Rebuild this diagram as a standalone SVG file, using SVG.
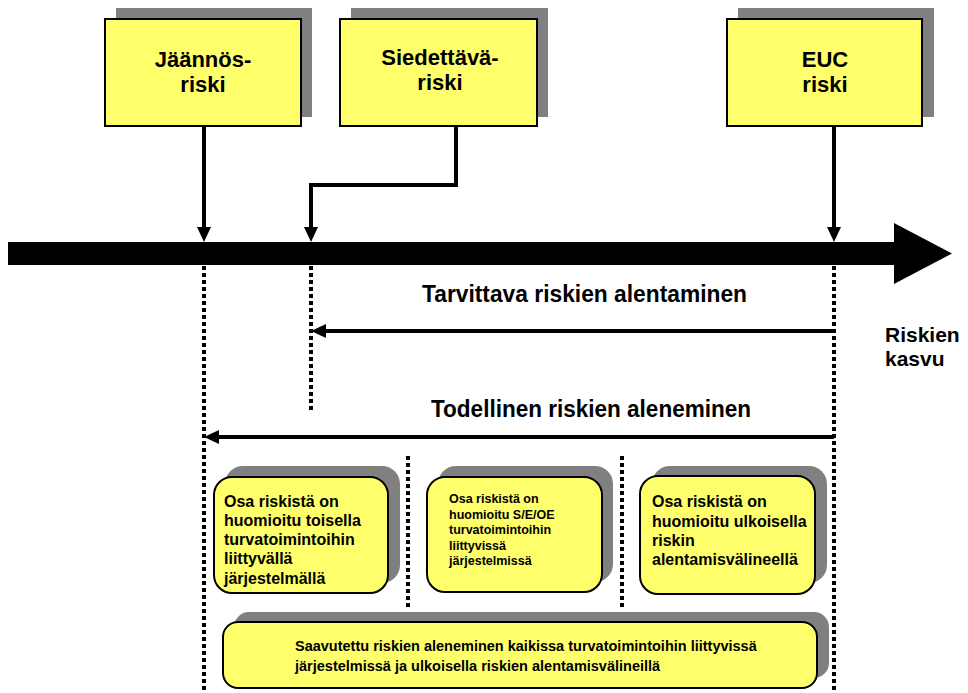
<svg xmlns="http://www.w3.org/2000/svg" width="968" height="693" viewBox="0 0 968 693">
<style>
.bg{fill:#ffffff}
.shadow{fill:#808080}
.box{fill:#ffff6b;stroke:#000;stroke-width:2}
.ttl{font-family:"Liberation Sans",Arial,sans-serif;font-weight:bold;font-size:22px;fill:#000;text-anchor:middle}
.t16{font-family:"Liberation Sans",Arial,sans-serif;font-weight:bold;font-size:16px;fill:#000}
.t12{font-family:"Liberation Sans",Arial,sans-serif;font-weight:bold;font-size:12.5px;fill:#000}
.t14{font-family:"Liberation Sans",Arial,sans-serif;font-weight:bold;font-size:14.5px;fill:#000}
.lbl{font-family:"Liberation Sans Narrow","Liberation Sans",Arial,sans-serif;font-weight:bold;font-size:23px;fill:#000}
.side{font-family:"Liberation Sans",Arial,sans-serif;font-weight:bold;font-size:21px;fill:#000}
.ln{fill:none;stroke:#000;stroke-width:4}
.dot{fill:none;stroke:#000;stroke-width:4;stroke-dasharray:4 3}
</style>
<defs>
<marker id="ah" viewBox="0 0 15 14" refX="7" refY="7" markerWidth="15" markerHeight="14" markerUnits="userSpaceOnUse" orient="auto">
<path d="M0,0 L15,7 L0,14 Z" fill="#000"/>
</marker>
</defs>
<rect class="bg" x="0" y="0" width="968" height="693"/>
<g id="connectors">
<path class="dot" d="M204,266 V693"/>
<path class="dot" d="M311,266 V413"/>
<path class="dot" d="M834,266 V693"/>
<path class="dot" d="M408,456 V610"/>
<path class="dot" d="M622,456 V610"/>
<path class="ln" d="M204,126 V234" marker-end="url(#ah)"/>
<path class="ln" d="M456,126 V185 H311 V234" marker-end="url(#ah)"/>
<path class="ln" d="M834,126 V234" marker-end="url(#ah)"/>
<path class="ln" d="M834,331 H319" marker-end="url(#ah)"/>
<path class="ln" d="M834,437 H212" marker-end="url(#ah)"/>
<path id="axis" d="M8,242 H894 V223 L952,253.5 L894,284 V265 H8 Z" fill="#000"/>
</g>
<g id="jaannosriski">
<rect class="shadow" x="116" y="8" width="196" height="109"/>
<rect class="box" x="105" y="19" width="196" height="107"/>
<text class="ttl" x="203" y="67">Jäännös-</text>
<text class="ttl" x="203" y="92">riski</text>
</g>
<g id="siedettavariski">
<rect class="shadow" x="351" y="8" width="197" height="109"/>
<rect class="box" x="340" y="19" width="197" height="107"/>
<text class="ttl" x="440" y="65">Siedettävä-</text>
<text class="ttl" x="440" y="90">riski</text>
</g>
<g id="eucriski">
<rect class="shadow" x="738" y="8" width="196" height="109"/>
<rect class="box" x="727" y="19" width="195" height="107"/>
<text class="ttl" x="825" y="67">EUC</text>
<text class="ttl" x="825" y="92">riski</text>
</g>
<g id="tarvittava">
<text class="lbl" x="422" y="302" textLength="325" lengthAdjust="spacingAndGlyphs">Tarvittava riskien alentaminen</text>
</g>
<g id="todellinen">
<text class="lbl" x="431" y="417" textLength="320" lengthAdjust="spacingAndGlyphs">Todellinen riskien aleneminen</text>
</g>
<g id="riskienkasvu">
<text class="side" x="885" y="342">Riskien</text>
<text class="side" x="885" y="366">kasvu</text>
</g>
<g id="toinen">
<rect class="shadow" x="225" y="466" width="175" height="117" rx="18"/>
<rect class="box" x="214" y="477" width="174" height="116" rx="18"/>
<text class="t16" x="224" y="507">Osa riskistä on</text>
<text class="t16" x="224" y="526">huomioitu toisella</text>
<text class="t16" x="224" y="545">turvatoimintoihin</text>
<text class="t16" x="224" y="564">liittyvällä</text>
<text class="t16" x="224" y="584">järjestelmällä</text>
</g>
<g id="seoe">
<rect class="shadow" x="438" y="466" width="175" height="116" rx="18"/>
<rect class="box" x="427" y="477" width="175" height="115" rx="18"/>
<text class="t12" x="449" y="503">Osa riskistä on</text>
<text class="t12" x="449" y="519">huomioitu S/E/OE</text>
<text class="t12" x="449" y="534">turvatoimintoihin</text>
<text class="t12" x="449" y="550">liittyvissä</text>
<text class="t12" x="449" y="565">järjestelmissä</text>
</g>
<g id="ulkoinen">
<rect class="shadow" x="652" y="466" width="175" height="117" rx="18"/>
<rect class="box" x="640" y="476" width="175" height="118" rx="18"/>
<text class="t16" x="652" y="507">Osa riskistä on</text>
<text class="t16" x="652" y="527">huomioitu ulkoisella</text>
<text class="t16" x="652" y="546">riskin</text>
<text class="t16" x="652" y="565">alentamisvälineellä</text>
</g>
<g id="saavutettu">
<rect class="shadow" x="234" y="612" width="595" height="66" rx="15"/>
<rect class="box" x="223" y="622" width="594" height="66" rx="15"/>
<text class="t14" x="295" y="651">Saavutettu riskien aleneminen kaikissa turvatoimintoihin liittyvissä</text>
<text class="t14" x="295" y="671">järjestelmissä ja ulkoisella riskien alentamisvälineillä</text>
</g>
</svg>
